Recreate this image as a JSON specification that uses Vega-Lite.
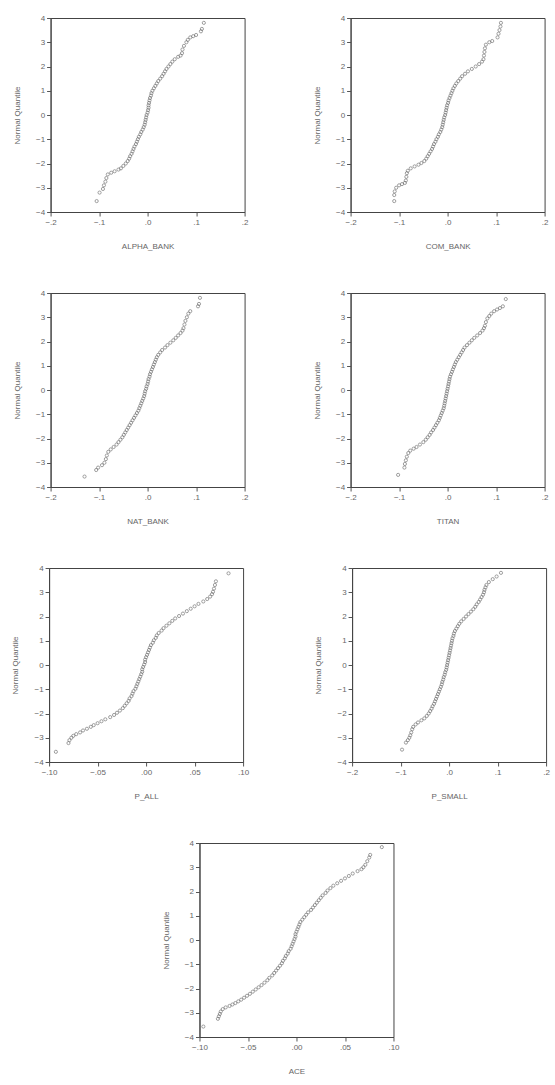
{
"$schema":"https://vega.github.io/schema/vega-lite/v6.json",
"background":"white",
"padding":{"left":11,"top":13,"right":4,"bottom":2},
"datasets":{
"ALPHA_BANK":[{"y":-3.55,"x":-0.105},{"y":-3.2,"x":-0.099},{"y":-3.05,"x":-0.092},{"y":-2.9,"x":-0.09},{"y":-2.75,"x":-0.087},{"y":-2.6,"x":-0.085},{"y":-2.45,"x":-0.082},{"y":-2.38,"x":-0.075},{"y":-2.32,"x":-0.068},{"y":-2.25,"x":-0.06},{"y":-2.2,"x":-0.055},{"y":-2.1,"x":-0.05},{"y":-2.0,"x":-0.045},{"y":-1.9,"x":-0.041},{"y":-1.8,"x":-0.038},{"y":-1.7,"x":-0.036},{"y":-1.6,"x":-0.033},{"y":-1.5,"x":-0.031},{"y":-1.4,"x":-0.029},{"y":-1.3,"x":-0.027},{"y":-1.2,"x":-0.024},{"y":-1.1,"x":-0.022},{"y":-1.0,"x":-0.02},{"y":-0.9,"x":-0.018},{"y":-0.8,"x":-0.015},{"y":-0.7,"x":-0.013},{"y":-0.6,"x":-0.01},{"y":-0.5,"x":-0.008},{"y":-0.4,"x":-0.006},{"y":-0.3,"x":-0.005},{"y":-0.2,"x":-0.004},{"y":-0.1,"x":-0.003},{"y":0.0,"x":-0.002},{"y":0.1,"x":0.0},{"y":0.2,"x":0.001},{"y":0.3,"x":0.002},{"y":0.4,"x":0.002},{"y":0.5,"x":0.003},{"y":0.6,"x":0.004},{"y":0.7,"x":0.005},{"y":0.8,"x":0.007},{"y":0.9,"x":0.008},{"y":1.0,"x":0.01},{"y":1.1,"x":0.013},{"y":1.2,"x":0.016},{"y":1.3,"x":0.019},{"y":1.4,"x":0.022},{"y":1.5,"x":0.026},{"y":1.6,"x":0.03},{"y":1.7,"x":0.033},{"y":1.8,"x":0.036},{"y":1.9,"x":0.039},{"y":2.0,"x":0.043},{"y":2.1,"x":0.047},{"y":2.2,"x":0.051},{"y":2.3,"x":0.056},{"y":2.4,"x":0.063},{"y":2.45,"x":0.068},{"y":2.55,"x":0.071},{"y":2.7,"x":0.072},{"y":2.85,"x":0.075},{"y":3.0,"x":0.08},{"y":3.1,"x":0.083},{"y":3.2,"x":0.088},{"y":3.25,"x":0.094},{"y":3.3,"x":0.1},{"y":3.45,"x":0.11},{"y":3.55,"x":0.112},{"y":3.8,"x":0.116}],
"COM_BANK":[{"y":-3.55,"x":-0.11},{"y":-3.3,"x":-0.11},{"y":-3.15,"x":-0.109},{"y":-3.0,"x":-0.106},{"y":-2.9,"x":-0.1},{"y":-2.85,"x":-0.094},{"y":-2.8,"x":-0.088},{"y":-2.7,"x":-0.086},{"y":-2.55,"x":-0.085},{"y":-2.4,"x":-0.084},{"y":-2.3,"x":-0.082},{"y":-2.2,"x":-0.076},{"y":-2.12,"x":-0.068},{"y":-2.05,"x":-0.06},{"y":-1.98,"x":-0.054},{"y":-1.9,"x":-0.048},{"y":-1.8,"x":-0.044},{"y":-1.7,"x":-0.041},{"y":-1.6,"x":-0.038},{"y":-1.5,"x":-0.035},{"y":-1.4,"x":-0.032},{"y":-1.3,"x":-0.03},{"y":-1.2,"x":-0.028},{"y":-1.1,"x":-0.025},{"y":-1.0,"x":-0.023},{"y":-0.9,"x":-0.02},{"y":-0.8,"x":-0.018},{"y":-0.7,"x":-0.015},{"y":-0.6,"x":-0.013},{"y":-0.5,"x":-0.011},{"y":-0.4,"x":-0.01},{"y":-0.3,"x":-0.009},{"y":-0.2,"x":-0.008},{"y":-0.1,"x":-0.007},{"y":0.0,"x":-0.005},{"y":0.1,"x":-0.004},{"y":0.2,"x":-0.003},{"y":0.3,"x":-0.002},{"y":0.4,"x":-0.001},{"y":0.5,"x":0.001},{"y":0.6,"x":0.002},{"y":0.7,"x":0.004},{"y":0.8,"x":0.006},{"y":0.9,"x":0.008},{"y":1.0,"x":0.01},{"y":1.1,"x":0.012},{"y":1.2,"x":0.015},{"y":1.3,"x":0.018},{"y":1.4,"x":0.022},{"y":1.5,"x":0.026},{"y":1.6,"x":0.03},{"y":1.7,"x":0.036},{"y":1.8,"x":0.042},{"y":1.9,"x":0.05},{"y":2.0,"x":0.058},{"y":2.1,"x":0.065},{"y":2.2,"x":0.071},{"y":2.3,"x":0.074},{"y":2.45,"x":0.075},{"y":2.6,"x":0.076},{"y":2.75,"x":0.077},{"y":2.9,"x":0.079},{"y":3.0,"x":0.086},{"y":3.05,"x":0.092},{"y":3.2,"x":0.103},{"y":3.35,"x":0.105},{"y":3.5,"x":0.107},{"y":3.65,"x":0.109},{"y":3.8,"x":0.11}],
"NAT_BANK":[{"y":-3.57,"x":-0.13},{"y":-3.3,"x":-0.106},{"y":-3.2,"x":-0.102},{"y":-3.1,"x":-0.094},{"y":-3.0,"x":-0.089},{"y":-2.85,"x":-0.086},{"y":-2.7,"x":-0.084},{"y":-2.55,"x":-0.081},{"y":-2.45,"x":-0.076},{"y":-2.35,"x":-0.07},{"y":-2.25,"x":-0.064},{"y":-2.15,"x":-0.06},{"y":-2.05,"x":-0.056},{"y":-1.95,"x":-0.052},{"y":-1.85,"x":-0.049},{"y":-1.75,"x":-0.046},{"y":-1.65,"x":-0.043},{"y":-1.55,"x":-0.04},{"y":-1.45,"x":-0.037},{"y":-1.35,"x":-0.034},{"y":-1.25,"x":-0.031},{"y":-1.15,"x":-0.028},{"y":-1.05,"x":-0.025},{"y":-0.95,"x":-0.022},{"y":-0.85,"x":-0.019},{"y":-0.75,"x":-0.017},{"y":-0.65,"x":-0.015},{"y":-0.55,"x":-0.013},{"y":-0.45,"x":-0.011},{"y":-0.35,"x":-0.009},{"y":-0.25,"x":-0.007},{"y":-0.15,"x":-0.006},{"y":-0.05,"x":-0.005},{"y":0.05,"x":-0.003},{"y":0.15,"x":-0.002},{"y":0.25,"x":0.0},{"y":0.35,"x":0.001},{"y":0.45,"x":0.002},{"y":0.55,"x":0.004},{"y":0.65,"x":0.005},{"y":0.75,"x":0.007},{"y":0.85,"x":0.009},{"y":0.95,"x":0.011},{"y":1.05,"x":0.013},{"y":1.15,"x":0.015},{"y":1.25,"x":0.017},{"y":1.35,"x":0.019},{"y":1.45,"x":0.022},{"y":1.55,"x":0.026},{"y":1.65,"x":0.03},{"y":1.75,"x":0.036},{"y":1.85,"x":0.041},{"y":1.95,"x":0.047},{"y":2.05,"x":0.053},{"y":2.15,"x":0.058},{"y":2.25,"x":0.063},{"y":2.35,"x":0.068},{"y":2.45,"x":0.072},{"y":2.55,"x":0.074},{"y":2.7,"x":0.076},{"y":2.85,"x":0.078},{"y":3.0,"x":0.081},{"y":3.15,"x":0.084},{"y":3.25,"x":0.088},{"y":3.45,"x":0.104},{"y":3.55,"x":0.106},{"y":3.8,"x":0.108}],
"TITAN":[{"y":-3.5,"x":-0.102},{"y":-3.2,"x":-0.089},{"y":-3.05,"x":-0.088},{"y":-2.9,"x":-0.086},{"y":-2.75,"x":-0.084},{"y":-2.6,"x":-0.081},{"y":-2.5,"x":-0.077},{"y":-2.42,"x":-0.07},{"y":-2.35,"x":-0.064},{"y":-2.25,"x":-0.057},{"y":-2.15,"x":-0.05},{"y":-2.05,"x":-0.045},{"y":-1.95,"x":-0.041},{"y":-1.85,"x":-0.037},{"y":-1.75,"x":-0.034},{"y":-1.65,"x":-0.03},{"y":-1.55,"x":-0.027},{"y":-1.45,"x":-0.024},{"y":-1.35,"x":-0.021},{"y":-1.25,"x":-0.018},{"y":-1.15,"x":-0.016},{"y":-1.05,"x":-0.014},{"y":-0.95,"x":-0.012},{"y":-0.85,"x":-0.01},{"y":-0.75,"x":-0.008},{"y":-0.65,"x":-0.007},{"y":-0.55,"x":-0.006},{"y":-0.45,"x":-0.005},{"y":-0.35,"x":-0.004},{"y":-0.25,"x":-0.003},{"y":-0.15,"x":-0.002},{"y":-0.05,"x":-0.001},{"y":0.05,"x":0.0},{"y":0.15,"x":0.001},{"y":0.25,"x":0.002},{"y":0.35,"x":0.003},{"y":0.45,"x":0.004},{"y":0.55,"x":0.005},{"y":0.65,"x":0.007},{"y":0.75,"x":0.009},{"y":0.85,"x":0.011},{"y":0.95,"x":0.013},{"y":1.05,"x":0.015},{"y":1.15,"x":0.017},{"y":1.25,"x":0.02},{"y":1.35,"x":0.023},{"y":1.45,"x":0.026},{"y":1.55,"x":0.029},{"y":1.65,"x":0.032},{"y":1.75,"x":0.035},{"y":1.85,"x":0.04},{"y":1.95,"x":0.045},{"y":2.05,"x":0.05},{"y":2.15,"x":0.055},{"y":2.25,"x":0.061},{"y":2.35,"x":0.067},{"y":2.45,"x":0.072},{"y":2.55,"x":0.075},{"y":2.65,"x":0.077},{"y":2.8,"x":0.079},{"y":2.95,"x":0.082},{"y":3.05,"x":0.086},{"y":3.15,"x":0.09},{"y":3.25,"x":0.096},{"y":3.32,"x":0.102},{"y":3.38,"x":0.108},{"y":3.45,"x":0.114},{"y":3.75,"x":0.12}],
"P_ALL":[{"y":-3.58,"x":-0.093},{"y":-3.22,"x":-0.08},{"y":-3.1,"x":-0.079},{"y":-3.0,"x":-0.077},{"y":-2.92,"x":-0.075},{"y":-2.85,"x":-0.072},{"y":-2.78,"x":-0.068},{"y":-2.7,"x":-0.065},{"y":-2.63,"x":-0.061},{"y":-2.55,"x":-0.057},{"y":-2.48,"x":-0.054},{"y":-2.4,"x":-0.05},{"y":-2.32,"x":-0.046},{"y":-2.24,"x":-0.042},{"y":-2.15,"x":-0.037},{"y":-2.06,"x":-0.033},{"y":-1.97,"x":-0.03},{"y":-1.88,"x":-0.027},{"y":-1.78,"x":-0.024},{"y":-1.68,"x":-0.022},{"y":-1.58,"x":-0.02},{"y":-1.48,"x":-0.018},{"y":-1.38,"x":-0.017},{"y":-1.28,"x":-0.015},{"y":-1.18,"x":-0.014},{"y":-1.08,"x":-0.013},{"y":-0.98,"x":-0.011},{"y":-0.88,"x":-0.01},{"y":-0.78,"x":-0.009},{"y":-0.68,"x":-0.008},{"y":-0.58,"x":-0.007},{"y":-0.48,"x":-0.006},{"y":-0.38,"x":-0.005},{"y":-0.28,"x":-0.004},{"y":-0.18,"x":-0.004},{"y":-0.08,"x":-0.003},{"y":0.02,"x":-0.002},{"y":0.12,"x":-0.001},{"y":0.22,"x":-0.001},{"y":0.32,"x":0.0},{"y":0.42,"x":0.001},{"y":0.52,"x":0.002},{"y":0.62,"x":0.003},{"y":0.72,"x":0.004},{"y":0.82,"x":0.005},{"y":0.92,"x":0.007},{"y":1.02,"x":0.008},{"y":1.12,"x":0.01},{"y":1.22,"x":0.011},{"y":1.32,"x":0.013},{"y":1.42,"x":0.016},{"y":1.52,"x":0.018},{"y":1.62,"x":0.021},{"y":1.72,"x":0.024},{"y":1.82,"x":0.027},{"y":1.92,"x":0.03},{"y":2.02,"x":0.034},{"y":2.12,"x":0.038},{"y":2.22,"x":0.042},{"y":2.32,"x":0.046},{"y":2.42,"x":0.05},{"y":2.52,"x":0.054},{"y":2.62,"x":0.059},{"y":2.72,"x":0.063},{"y":2.82,"x":0.066},{"y":2.92,"x":0.068},{"y":3.02,"x":0.069},{"y":3.15,"x":0.07},{"y":3.3,"x":0.071},{"y":3.45,"x":0.072},{"y":3.78,"x":0.085}],
"P_SMALL":[{"y":-3.49,"x":-0.097},{"y":-3.2,"x":-0.089},{"y":-3.1,"x":-0.085},{"y":-3.0,"x":-0.082},{"y":-2.9,"x":-0.08},{"y":-2.78,"x":-0.078},{"y":-2.65,"x":-0.076},{"y":-2.55,"x":-0.074},{"y":-2.45,"x":-0.069},{"y":-2.37,"x":-0.064},{"y":-2.28,"x":-0.057},{"y":-2.2,"x":-0.051},{"y":-2.1,"x":-0.046},{"y":-2.0,"x":-0.042},{"y":-1.9,"x":-0.039},{"y":-1.8,"x":-0.036},{"y":-1.7,"x":-0.034},{"y":-1.6,"x":-0.031},{"y":-1.5,"x":-0.029},{"y":-1.4,"x":-0.027},{"y":-1.3,"x":-0.025},{"y":-1.2,"x":-0.023},{"y":-1.1,"x":-0.021},{"y":-1.0,"x":-0.019},{"y":-0.9,"x":-0.017},{"y":-0.8,"x":-0.015},{"y":-0.7,"x":-0.014},{"y":-0.6,"x":-0.012},{"y":-0.5,"x":-0.011},{"y":-0.4,"x":-0.009},{"y":-0.3,"x":-0.008},{"y":-0.2,"x":-0.006},{"y":-0.1,"x":-0.005},{"y":0.0,"x":-0.004},{"y":0.1,"x":-0.003},{"y":0.2,"x":-0.002},{"y":0.3,"x":-0.001},{"y":0.4,"x":0.0},{"y":0.5,"x":0.001},{"y":0.6,"x":0.002},{"y":0.7,"x":0.003},{"y":0.8,"x":0.004},{"y":0.9,"x":0.005},{"y":1.0,"x":0.006},{"y":1.1,"x":0.007},{"y":1.2,"x":0.009},{"y":1.3,"x":0.01},{"y":1.4,"x":0.012},{"y":1.5,"x":0.015},{"y":1.6,"x":0.018},{"y":1.7,"x":0.021},{"y":1.8,"x":0.025},{"y":1.9,"x":0.03},{"y":2.0,"x":0.035},{"y":2.1,"x":0.04},{"y":2.2,"x":0.045},{"y":2.3,"x":0.05},{"y":2.4,"x":0.054},{"y":2.5,"x":0.057},{"y":2.6,"x":0.061},{"y":2.7,"x":0.064},{"y":2.8,"x":0.067},{"y":2.9,"x":0.07},{"y":3.0,"x":0.072},{"y":3.1,"x":0.073},{"y":3.2,"x":0.075},{"y":3.3,"x":0.077},{"y":3.42,"x":0.082},{"y":3.54,"x":0.09},{"y":3.65,"x":0.098},{"y":3.8,"x":0.107}],
"ACE":[{"y":-3.57,"x":-0.096},{"y":-3.25,"x":-0.081},{"y":-3.15,"x":-0.08},{"y":-3.05,"x":-0.079},{"y":-2.95,"x":-0.078},{"y":-2.85,"x":-0.076},{"y":-2.78,"x":-0.073},{"y":-2.72,"x":-0.069},{"y":-2.66,"x":-0.066},{"y":-2.6,"x":-0.063},{"y":-2.53,"x":-0.06},{"y":-2.46,"x":-0.057},{"y":-2.38,"x":-0.054},{"y":-2.3,"x":-0.051},{"y":-2.22,"x":-0.048},{"y":-2.13,"x":-0.045},{"y":-2.04,"x":-0.042},{"y":-1.95,"x":-0.039},{"y":-1.86,"x":-0.036},{"y":-1.76,"x":-0.033},{"y":-1.66,"x":-0.03},{"y":-1.56,"x":-0.028},{"y":-1.46,"x":-0.025},{"y":-1.36,"x":-0.023},{"y":-1.26,"x":-0.021},{"y":-1.16,"x":-0.019},{"y":-1.06,"x":-0.017},{"y":-0.96,"x":-0.015},{"y":-0.86,"x":-0.014},{"y":-0.76,"x":-0.012},{"y":-0.66,"x":-0.011},{"y":-0.56,"x":-0.009},{"y":-0.46,"x":-0.008},{"y":-0.36,"x":-0.006},{"y":-0.26,"x":-0.005},{"y":-0.16,"x":-0.004},{"y":-0.06,"x":-0.003},{"y":0.04,"x":-0.002},{"y":0.14,"x":-0.001},{"y":0.24,"x":-0.001},{"y":0.34,"x":0.0},{"y":0.44,"x":0.001},{"y":0.54,"x":0.002},{"y":0.64,"x":0.003},{"y":0.74,"x":0.004},{"y":0.84,"x":0.006},{"y":0.94,"x":0.008},{"y":1.04,"x":0.01},{"y":1.14,"x":0.012},{"y":1.24,"x":0.015},{"y":1.34,"x":0.017},{"y":1.44,"x":0.019},{"y":1.54,"x":0.021},{"y":1.64,"x":0.023},{"y":1.74,"x":0.025},{"y":1.84,"x":0.027},{"y":1.94,"x":0.03},{"y":2.04,"x":0.032},{"y":2.14,"x":0.035},{"y":2.24,"x":0.038},{"y":2.34,"x":0.042},{"y":2.44,"x":0.046},{"y":2.54,"x":0.05},{"y":2.64,"x":0.054},{"y":2.74,"x":0.058},{"y":2.84,"x":0.063},{"y":2.92,"x":0.067},{"y":3.0,"x":0.069},{"y":3.1,"x":0.071},{"y":3.25,"x":0.073},{"y":3.4,"x":0.075},{"y":3.51,"x":0.076},{"y":3.83,"x":0.088}]
},
"vconcat":[
{"hconcat":[
{"width":194,"height":194,"data":{"name":"ALPHA_BANK"},"mark":{"type":"point"},"encoding":{"x":{"field":"x","type":"quantitative","scale":{"domain":[-0.2,0.2],"nice":false,"zero":false},"axis":{"values":[-0.2,-0.1,0,0.1,0.2],"labelExpr":"replace(format(datum.value,'.1f'),'0.','.')","title":"ALPHA_BANK"}},"y":{"field":"y","type":"quantitative","scale":{"domain":[-4,4],"nice":false},"axis":{"values":[-4,-3,-2,-1,0,1,2,3,4],"format":"d","title":"Normal Quantile"}}}},
{"width":194,"height":194,"data":{"name":"COM_BANK"},"mark":{"type":"point"},"encoding":{"x":{"field":"x","type":"quantitative","scale":{"domain":[-0.2,0.2],"nice":false,"zero":false},"axis":{"values":[-0.2,-0.1,0,0.1,0.2],"labelExpr":"replace(format(datum.value,'.1f'),'0.','.')","title":"COM_BANK"}},"y":{"field":"y","type":"quantitative","scale":{"domain":[-4,4],"nice":false},"axis":{"values":[-4,-3,-2,-1,0,1,2,3,4],"format":"d","title":"Normal Quantile"}}}}
]},
{"hconcat":[
{"width":194,"height":194,"data":{"name":"NAT_BANK"},"mark":{"type":"point"},"encoding":{"x":{"field":"x","type":"quantitative","scale":{"domain":[-0.2,0.2],"nice":false,"zero":false},"axis":{"values":[-0.2,-0.1,0,0.1,0.2],"labelExpr":"replace(format(datum.value,'.1f'),'0.','.')","title":"NAT_BANK"}},"y":{"field":"y","type":"quantitative","scale":{"domain":[-4,4],"nice":false},"axis":{"values":[-4,-3,-2,-1,0,1,2,3,4],"format":"d","title":"Normal Quantile"}}}},
{"width":194,"height":194,"data":{"name":"TITAN"},"mark":{"type":"point"},"encoding":{"x":{"field":"x","type":"quantitative","scale":{"domain":[-0.2,0.2],"nice":false,"zero":false},"axis":{"values":[-0.2,-0.1,0,0.1,0.2],"labelExpr":"replace(format(datum.value,'.1f'),'0.','.')","title":"TITAN"}},"y":{"field":"y","type":"quantitative","scale":{"domain":[-4,4],"nice":false},"axis":{"values":[-4,-3,-2,-1,0,1,2,3,4],"format":"d","title":"Normal Quantile"}}}}
]},
{"hconcat":[
{"width":194,"height":194,"data":{"name":"P_ALL"},"mark":{"type":"point"},"encoding":{"x":{"field":"x","type":"quantitative","scale":{"domain":[-0.1,0.1],"nice":false,"zero":false},"axis":{"values":[-0.1,-0.05,0,0.05,0.1],"labelExpr":"replace(format(datum.value,'.2f'),'0.','.')","title":"P_ALL"}},"y":{"field":"y","type":"quantitative","scale":{"domain":[-4,4],"nice":false},"axis":{"values":[-4,-3,-2,-1,0,1,2,3,4],"format":"d","title":"Normal Quantile"}}}},
{"width":194,"height":194,"data":{"name":"P_SMALL"},"mark":{"type":"point"},"encoding":{"x":{"field":"x","type":"quantitative","scale":{"domain":[-0.2,0.2],"nice":false,"zero":false},"axis":{"values":[-0.2,-0.1,0,0.1,0.2],"labelExpr":"replace(format(datum.value,'.1f'),'0.','.')","title":"P_SMALL"}},"y":{"field":"y","type":"quantitative","scale":{"domain":[-4,4],"nice":false},"axis":{"values":[-4,-3,-2,-1,0,1,2,3,4],"format":"d","title":"Normal Quantile"}}}}
]},
{"width":194,"height":194,"data":{"name":"ACE"},"mark":{"type":"point"},"encoding":{"x":{"field":"x","type":"quantitative","scale":{"domain":[-0.1,0.1],"nice":false,"zero":false},"axis":{"values":[-0.1,-0.05,0,0.05,0.1],"labelExpr":"replace(format(datum.value,'.2f'),'0.','.')","title":"ACE"}},"y":{"field":"y","type":"quantitative","scale":{"domain":[-4,4],"nice":false},"axis":{"values":[-4,-3,-2,-1,0,1,2,3,4],"format":"d","title":"Normal Quantile"}}}}
],
"center":true,
"spacing":37,
"config":{
"concat":{"spacing":64},
"view":{"stroke":"#444","strokeWidth":1},
"point":{"size":10,"strokeWidth":0.9,"color":"#666","filled":false},
"axis":{"labelFont":"Liberation Sans","titleFont":"Liberation Sans","labelFontSize":8,"titleFontSize":8,"labelColor":"#666","titleColor":"#666","titleFontWeight":"normal","tickColor":"#555","domainColor":"#444","tickSize":4,"grid":false,"labelFlush":false,"labelOverlap":false},
"axisX":{"titlePadding":16,"labelPadding":2},
"axisY":{"titlePadding":14,"labelPadding":2}
}
}
